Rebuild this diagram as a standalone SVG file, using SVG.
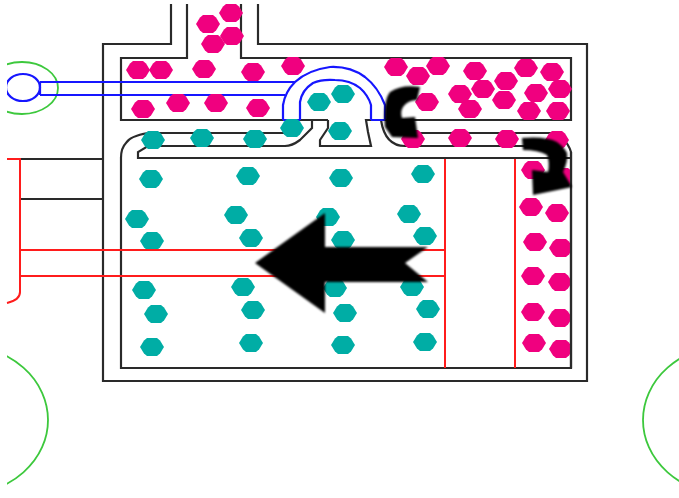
<svg xmlns="http://www.w3.org/2000/svg" xmlns:xlink="http://www.w3.org/1999/xlink" width="679" height="498" viewBox="0 0 679 498">
<style>
.w{fill:none;stroke:#2b2b2b;stroke-width:2.200}
.b{fill:none;stroke:#1414ff;stroke-width:2.200}
.r{fill:none;stroke:#ff1a1a;stroke-width:2}
.g{fill:none;stroke:#3cc83c;stroke-width:1.800}
.m{fill:#f0047f}
.t{fill:#00ada5}
.a{fill:#000}
</style>
<defs>
<path id="h" d="M-12,0L-8,-6.500L-5,-9H5L8,-6.500L12,0L8,6.500L5,9H-5L-8,6.500Z"/>
<clipPath id="c"><rect x="7" y="0" width="672" height="498"/></clipPath>
<clipPath id="w"><rect x="0" y="0" width="572" height="498"/></clipPath>
<filter id="s" x="0" y="0" width="1" height="1"><feGaussianBlur stdDeviation="0.450"/></filter>
<filter id="s2" x="-0.050" y="-0.050" width="1.100" height="1.100"><feGaussianBlur stdDeviation="0.900"/></filter>
</defs>
<rect width="679" height="498" fill="#fff"/>
<g filter="url(#s)">
<g id="wheels" clip-path="url(#c)">
<ellipse class="g" cx="22" cy="88" rx="36" ry="26"/>
<ellipse class="g" cx="-36" cy="420" rx="84" ry="74"/>
<ellipse class="g" cx="727" cy="420" rx="84" ry="74"/>
</g>
<g id="cylinder">
<path class="w" d="M171,4V44H103V381H587V44H258V4"/>
<path class="w" d="M187,4V58H121V120H312V128L300,140Q292,146 285,146H148L138,152V158H571"/>
<path class="w" d="M241,4V58H571V120H381Q385,146 405,146H530"/>
<path class="w" d="M328,120H312M328,120V128L320,140V146H371L368,132L366,120H381"/>
<path class="w" d="M290,133H148Q130,136 126,143Q121,148 121,158V368H571V152Q566,136 550,133H405"/>
<path class="w" d="M20,159H103M20,199H103"/>
</g>
<g id="valve-rod">
<ellipse class="b" cx="23" cy="87.500" rx="17" ry="13.500" clip-path="url(#c)"/>
<path class="b" d="M40,82H295M40,95H285M40,82V95"/>
<path class="b" d="M283,120V105Q285,92 295,82Q308,70 330,67Q350,66 365,77Q378,87 385,105V120M300,120V102Q302,90 313,83Q322,79 335,80Q350,80 360,88Q368,95 371,105V120M283,120H300M371,120H385"/>
</g>
<g id="particles-magenta" class="m" clip-path="url(#w)">
<use href="#h" x="231" y="13"/><use href="#h" x="208" y="24"/><use href="#h" x="232" y="36"/><use href="#h" x="213" y="44"/>
<use href="#h" x="138" y="70"/><use href="#h" x="161" y="70"/><use href="#h" x="204" y="69"/><use href="#h" x="253" y="72"/><use href="#h" x="293" y="66"/>
<use href="#h" x="143" y="109"/><use href="#h" x="178" y="103"/><use href="#h" x="216" y="103"/><use href="#h" x="258" y="108"/>
<use href="#h" x="396" y="67"/><use href="#h" x="418" y="76"/><use href="#h" x="438" y="66"/><use href="#h" x="475" y="71"/><use href="#h" x="460" y="94"/><use href="#h" x="483" y="89"/><use href="#h" x="506" y="81"/><use href="#h" x="504" y="100"/><use href="#h" x="470" y="109"/><use href="#h" x="526" y="68"/><use href="#h" x="552" y="72"/><use href="#h" x="536" y="93"/><use href="#h" x="560" y="89"/><use href="#h" x="529" y="111"/><use href="#h" x="558" y="111"/><use href="#h" x="427" y="102"/>
<use href="#h" x="413" y="139"/><use href="#h" x="460" y="138"/><use href="#h" x="507" y="139"/><use href="#h" x="557" y="140"/><use href="#h" x="533" y="170"/><use href="#h" x="563" y="177"/>
<use href="#h" x="531" y="207"/><use href="#h" x="557" y="213"/><use href="#h" x="535" y="242"/><use href="#h" x="561" y="248"/><use href="#h" x="533" y="276"/><use href="#h" x="560" y="282"/><use href="#h" x="533" y="312"/><use href="#h" x="560" y="318"/><use href="#h" x="534" y="343"/><use href="#h" x="561" y="349"/>
</g>
<g id="particles-teal" class="t">
<use href="#h" x="319" y="102"/><use href="#h" x="343" y="94"/><use href="#h" x="292" y="128"/><use href="#h" x="340" y="131"/>
<use href="#h" x="153" y="140"/><use href="#h" x="202" y="138"/><use href="#h" x="255" y="139"/>
<use href="#h" x="151" y="179"/><use href="#h" x="248" y="176"/><use href="#h" x="341" y="178"/><use href="#h" x="423" y="174"/>
<use href="#h" x="137" y="219"/><use href="#h" x="236" y="215"/><use href="#h" x="328" y="217"/><use href="#h" x="409" y="214"/>
<use href="#h" x="152" y="241"/><use href="#h" x="251" y="238"/><use href="#h" x="343" y="240"/><use href="#h" x="425" y="236"/>
<use href="#h" x="144" y="290"/><use href="#h" x="243" y="287"/><use href="#h" x="335" y="288"/><use href="#h" x="412" y="287"/>
<use href="#h" x="156" y="314"/><use href="#h" x="253" y="310"/><use href="#h" x="345" y="313"/><use href="#h" x="428" y="309"/>
<use href="#h" x="152" y="347"/><use href="#h" x="251" y="343"/><use href="#h" x="343" y="345"/><use href="#h" x="425" y="342"/>
</g>
<g id="piston">
<path class="r" d="M7,159H20V292Q20,300 7,303"/>
<path class="r" d="M20,250H445M20,276H445M445,159V368M515,159V368"/>
<path class="w" d="M571,152V368"/>
</g>
</g>
<g id="arrows" class="a" filter="url(#s2)">
<path d="M255,263L325,213V247H428L405,263L428,282H325V313Z"/>
<path d="M420,87L417,100Q408,100 403,107Q400,112 402,118L415,117L418,138L392,137L385,127Q384,115 385,107Q386,97 390,92Q402,84 420,87Z"/>
<path d="M522,138L523,150Q538,150 547,155Q550,163 548,172L532,170L533,195L572,187L563,172Q568,162 567,153Q564,147 557,142Q546,136 522,138Z"/>
</g>
</svg>
